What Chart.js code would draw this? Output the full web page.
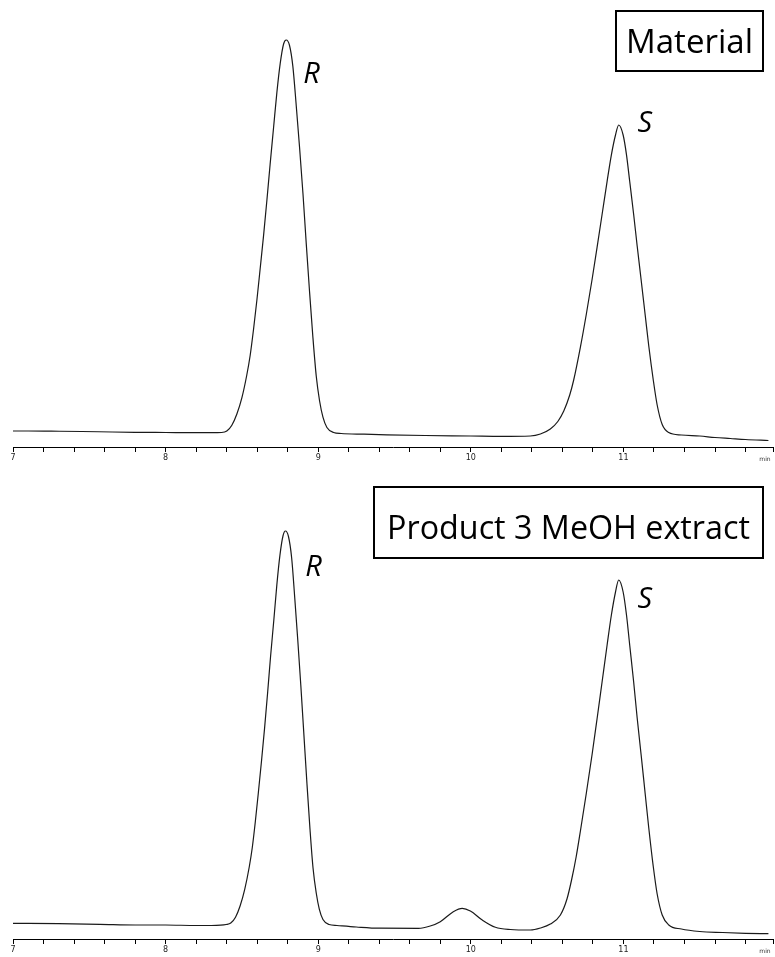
<!DOCTYPE html>
<html><head><meta charset="utf-8">
<script src="https://cdn.jsdelivr.net/npm/chart.js@4"></script>
<style>
html,body{margin:0;padding:0;background:#fff;width:775px;height:957px;overflow:hidden}
#w1{position:absolute;left:0;top:0;width:775px;height:472px}
#w2{position:absolute;left:0;top:472px;width:775px;height:485px}
</style></head><body>
<div id="w1"><canvas id="c1"></canvas></div>
<div id="w2"><canvas id="c2"></canvas></div>
<script>
// ---- data (time in min, signal in arbitrary units) ----
const timeMaterial = [7.00,7.10,7.25,7.45,7.65,7.80,8.00,8.20,8.30,8.367,8.401,8.434,8.467,8.500,8.532,8.554,8.576,8.598,8.620,8.642,8.664,8.685,8.707,8.729,8.751,8.773,8.790,8.812,8.834,8.856,8.878,8.900,8.921,8.943,8.965,8.987,9.009,9.031,9.057,9.101,9.15,9.30,9.45,9.70,10.00,10.20,10.39,10.456,10.521,10.570,10.609,10.648,10.674,10.718,10.757,10.795,10.827,10.860,10.893,10.921,10.948,10.969,10.998,11.020,11.041,11.067,11.090,11.116,11.144,11.166,11.195,11.221,11.254,11.297,11.38,11.50,11.60,11.70,11.80,11.95];
const signalMaterial = [16,16,15.8,15.5,15,14.7,14.5,14.3,14.3,14.5,16,21.8,33,49.4,72,91.5,117.5,146.7,179,211.6,247.3,283,318.7,354.4,383.6,403,407,401.5,380.4,341.3,299,253.5,204.6,155.7,110,71,46,29.9,19.5,14.5,13.5,12.8,12.2,11.5,11,10.6,11,13,18,25.5,36,52,67,99.9,133,168,199.4,232.5,265.7,292.2,312,322,312,292.2,265.7,232.5,201,167,130,101,67.5,42,22.5,14.5,12,11,9.5,8.5,7.5,6.5];

const timeProduct = [7.00,7.30,7.57,7.80,8.00,8.20,8.30,8.360,8.396,8.427,8.458,8.488,8.518,8.548,8.568,8.588,8.608,8.629,8.649,8.669,8.688,8.709,8.729,8.749,8.769,8.785,8.805,8.826,8.846,8.866,8.886,8.906,8.926,8.946,8.966,8.987,9.007,9.031,9.071,9.123,9.25,9.40,9.656,9.734,9.800,9.885,9.944,9.997,10.075,10.161,10.259,10.390,10.456,10.521,10.587,10.630,10.660,10.690,10.718,10.757,10.795,10.827,10.860,10.893,10.921,10.948,10.969,10.998,11.020,11.041,11.067,11.090,11.116,11.144,11.166,11.195,11.221,11.254,11.297,11.38,11.50,11.65,11.80,11.95];
const signalProduct = [15.7,15.3,14.7,14,14,13.5,13.5,13.8,14.5,16,21.8,33,49.4,72,91.5,117.5,146.7,179,211.6,247.3,283,318.7,354.4,383.6,403,408,402.5,381,341.5,299,253.5,204.6,155.7,110,71,46,29.9,19.5,14.5,13.5,12,10.8,10.7,13,17.3,27.3,30.7,28,19,11.7,9.5,9,11,15,24,40,59,82,108,146,185,220,257,294,324,347,359,347,324,294,257,221,184,143,111,73,45,24,14,10,7.5,6.5,5.7,5.3];

const tickTimes = [7,7.2,7.4,7.6,7.8,8,8.2,8.4,8.6,8.8,9,9.2,9.4,9.6,9.8,10,10.2,10.4,10.6,10.8,11,11.2,11.4,11.6,11.8,11.98];
const tickLabels = ['7','8','9','10','11'];
const axisUnit = 'min';

const peakLabelsMaterial = [{text:'R', t:8.902, v:364}, {text:'S', t:11.092, v:315}];
const peakLabelsProduct  = [{text:'R', t:8.915, v:363}, {text:'S', t:11.092, v:331}];
const titleMaterial = 'Material';
const titleProduct = 'Product 3 MeOH extract';

function pts(ts, vs){ return ts.map((t,i)=>({x:t, y:vs[i]})); }

function fitFont(ctx, text, width, family, style){
  ctx.font = (style||'') + ' 100px ' + family;
  const w = ctx.measureText(text).width;
  return 100 * width / w;
}

const decor = {
  id:'decor',
  afterDraw(chart){
    const o = chart.options.plugins.decor;
    const ctx = chart.ctx, xs = chart.scales.x, ys = chart.scales.y, ca = chart.chartArea;
    ctx.save();
    const b = o.box;
    ctx.lineWidth = 2; ctx.strokeStyle = '#000';
    const bx = ca.right - b.rightInset - b.w;
    ctx.strokeRect(bx, b.top, b.w, b.h);
    const fs = fitFont(ctx, b.text, b.textW, '"Open Sans", sans-serif', '');
    ctx.font = fs.toFixed(2) + 'px "Open Sans", sans-serif';
    ctx.fillStyle = '#000'; ctx.textAlign = 'center'; ctx.textBaseline = 'alphabetic';
    ctx.fillText(b.text, bx + b.w/2, b.baseline);
    ctx.font = 'italic 29px "Open Sans", sans-serif';
    ctx.textAlign = 'left';
    o.labels.forEach(l => ctx.fillText(l.text, xs.getPixelForValue(l.t), ys.getPixelForValue(l.v)));
    ctx.font = '6px "DejaVu Sans", sans-serif';
    ctx.fillStyle = '#333'; ctx.textAlign = 'center'; ctx.textBaseline = 'top';
    ctx.fillText(axisUnit, ca.right - 8, ca.bottom + 9);
    ctx.restore();
  }
};

function makeChart(id, ts, vs, yMax, axisH, labels, box){
  return new Chart(document.getElementById(id), {
    type:'line',
    data:{datasets:[{data:pts(ts,vs), borderColor:'#1a1a1a', borderWidth:1.2, pointRadius:0, fill:false, cubicInterpolationMode:'monotone'}]},
    options:{
      responsive:true, maintainAspectRatio:false, animation:false,
      layout:{padding:{left:13, right:2, top:0, bottom:0}},
      plugins:{legend:{display:false}, tooltip:{enabled:false}, decor:{labels, box}},
      scales:{
        x:{type:'linear', min:7, max:11.98,
           afterBuildTicks(s){ s.ticks = tickTimes.map(v=>({value:v})); },
           afterFit(s){ s.height = axisH; },
           ticks:{autoSkip:false, maxRotation:0, padding:1, color:'#222', font:{size:8, family:'"DejaVu Sans", sans-serif'},
             callback(v){ const r = Math.round(v); return (Math.abs(v-r)<1e-6 && tickLabels.includes(String(r))) ? String(r) : ''; }},
           grid:{display:true, drawOnChartArea:false, drawTicks:true, tickLength:5, color:'#000', lineWidth:1},
           border:{display:true, color:'#000', width:1}},
        y:{display:false, min:0, max:yMax}
      }
    },
    plugins:[decor]
  });
}

makeChart('c1', timeMaterial, signalMaterial, 447, 25, peakLabelsMaterial,
  {text:titleMaterial, rightInset:10, w:147, top:11, h:60, textW:127, baseline:53});
makeChart('c2', timeProduct, signalProduct, 467, 18, peakLabelsProduct,
  {text:titleProduct, rightInset:10, w:389, top:15, h:71, textW:363, baseline:67});
</script>
</body></html>
